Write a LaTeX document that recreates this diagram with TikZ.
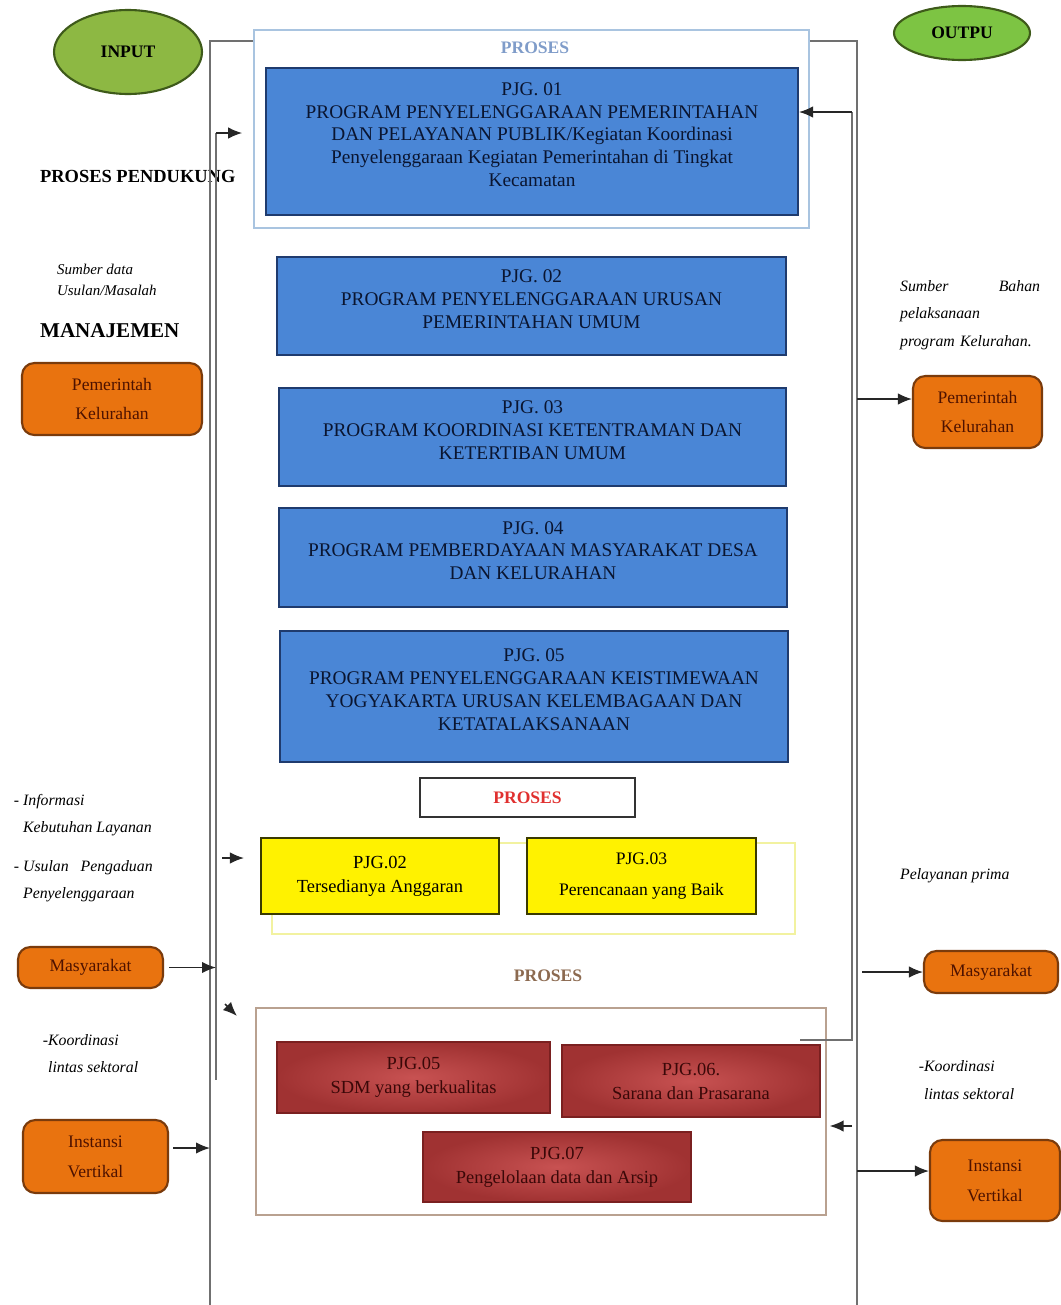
\documentclass[tikz,border=0pt]{standalone}
\usepackage{fontspec}
\setmainfont{Liberation Serif}
\usetikzlibrary{shapes.geometric,arrows.meta}
\definecolor{birubox}{HTML}{4A86D6}
\definecolor{birugaris}{HTML}{1F3B6E}
\definecolor{birutulis}{HTML}{0A1530}
\definecolor{birumuda}{HTML}{A9C4E0}
\definecolor{birujudul}{HTML}{7F9CC9}
\definecolor{kuninggaris}{HTML}{3A3A00}
\definecolor{kuningpudar}{HTML}{F2F2A0}
\definecolor{merahterang}{HTML}{C85252}
\definecolor{merahgelap}{HTML}{A03232}
\definecolor{merahgaris}{HTML}{7A2020}
\definecolor{merahtulis}{HTML}{3A0808}
\definecolor{oranye}{HTML}{E9730F}
\definecolor{oranyegaris}{HTML}{7A3B0C}
\definecolor{oranyetulis}{HTML}{4E1200}
\definecolor{hijaumasuk}{HTML}{8DB843}
\definecolor{hijaukeluar}{HTML}{7DC443}
\definecolor{hijaugaris}{HTML}{3E5A1A}
\definecolor{garis}{HTML}{707070}
\definecolor{merahjudul}{HTML}{E0302F}
\definecolor{coklatjudul}{HTML}{8C6A50}
\definecolor{bingkai}{HTML}{B9A190}
\newcommand{\naik}{\\[-5pt]\mbox{}}
\begin{document}
\begin{tikzpicture}[x=0.02cm,y=-0.02cm]
            \tikzstyle{every node}=[inner sep=1pt, text=black]
            \tikzstyle{program}=[rectangle, fill=birubox, draw=birugaris, line width=1.2pt, align=center, text=birutulis, font=\fontsize{11}{13}\selectfont]
            \tikzstyle{hasil}=[rectangle, fill=yellow, draw=kuninggaris, line width=1.2pt, align=center, font=\fontsize{10.5}{13.6}\selectfont]
            \tikzstyle{sarana}=[rectangle, inner color=merahterang, outer color=merahgelap, draw=merahgaris, line width=0.8pt, align=center, text=merahtulis, font=\fontsize{10.5}{13.6}\selectfont]
            \tikzstyle{pihak}=[rectangle, rounded corners=7pt, fill=oranye, draw=oranyegaris, line width=1.2pt, align=center, text=oranyetulis, font=\fontsize{10}{17}\selectfont]
            \tikzstyle{bulat}=[ellipse, draw=hijaugaris, line width=1.2pt, font=\bfseries\fontsize{10}{12}\selectfont]
            \tikzstyle{catatan}=[anchor=west, align=left, font=\itshape\fontsize{9}{15.5}\selectfont]
            \tikzstyle{judul}=[anchor=west, font=\bfseries\fontsize{10.5}{12}\selectfont]
            \tikzstyle{garisan}=[draw=garis, line width=1pt]
            \tikzstyle{panah}=[draw=black!85, line width=0.9pt, -{Latex[length=2.8mm,width=2.3mm]}]

            \useasboundingbox (0,0) rectangle (1061,1305);

            % masukan dan keluaran
            \node[bulat, fill=hijaumasuk, minimum width=2.96cm, minimum height=1.68cm] (input) at (128,52) {INPUT};
            \node[bulat, fill=hijaukeluar, minimum width=2.72cm, minimum height=1.08cm] (output) at (962,33) {OUTPU};

            % proses utama
            \node[rectangle, draw=birumuda, line width=1pt, minimum width=11.1cm, minimum height=3.96cm] (pbox) at (531.5,129) {};
            \node[font=\bfseries\fontsize{10}{12}\selectfont, text=birujudul] (plabel) at (535,48) {PROSES};
            \node[program, minimum width=10.64cm, minimum height=2.94cm] (pjg1) at (532,141.5) {PJG. 01\\PROGRAM PENYELENGGARAAN PEMERINTAHAN\\DAN PELAYANAN PUBLIK/Kegiatan Koordinasi\\Penyelenggaraan Kegiatan Pemerintahan di Tingkat\\Kecamatan\naik};
            \node[program, minimum width=10.18cm, minimum height=1.96cm] (pjg2) at (531.5,306) {PJG. 02\\PROGRAM PENYELENGGARAAN URUSAN\\PEMERINTAHAN UMUM\naik};
            \node[program, minimum width=10.14cm, minimum height=1.96cm] (pjg3) at (532.5,437) {PJG. 03\\PROGRAM KOORDINASI KETENTRAMAN DAN\\KETERTIBAN UMUM\naik};
            \node[program, minimum width=10.16cm, minimum height=1.98cm] (pjg4) at (533,557.5) {PJG. 04\\PROGRAM PEMBERDAYAAN MASYARAKAT DESA\\DAN KELURAHAN\naik};
            \node[program, minimum width=10.16cm, minimum height=2.62cm] (pjg5) at (534,696.5) {PJG. 05\\PROGRAM PENYELENGGARAAN KEISTIMEWAAN\\YOGYAKARTA URUSAN KELEMBAGAAN DAN\\KETATALAKSANAAN\naik};

            % hasil
            \node[rectangle, draw=black!80, line width=1pt, minimum width=4.3cm, minimum height=0.78cm, text=merahjudul, font=\bfseries\fontsize{10}{12}\selectfont] (plabel2) at (527.5,797.5) {PROSES};
            \node[rectangle, draw=kuningpudar, line width=1.2pt, minimum width=10.46cm, minimum height=1.82cm] (ybox) at (533.5,888.5) {};
            \node[hasil, minimum width=4.76cm, minimum height=1.52cm] (hasil2) at (380,876) {PJG.02\\Tersedianya Anggaran};
            \node[hasil, minimum width=4.58cm, minimum height=1.52cm, font=\fontsize{10}{17.5}\selectfont] (hasil3) at (641.5,876) {PJG.03\\Perencanaan yang Baik};

            % sarana
            \node[text=coklatjudul, font=\bfseries\fontsize{10}{12}\selectfont] (plabel3) at (548,976) {PROSES};
            \node[rectangle, draw=bingkai, line width=0.8pt, minimum width=11.4cm, minimum height=4.14cm] (bbox) at (541,1111.5) {};
            \node[sarana, minimum width=5.46cm, minimum height=1.42cm] (pjg05) at (413.5,1077.5) {PJG.05\\SDM yang berkualitas};
            \node[sarana, minimum width=5.16cm, minimum height=1.44cm] (pjg06) at (691,1081) {PJG.06.\\Sarana dan Prasarana};
            \node[sarana, minimum width=5.36cm, minimum height=1.4cm] (pjg07) at (557,1167) {PJG.07\\Pengelolaan data dan Arsip};

            % kiri
            \node[judul] (pendukung) at (38,176) {PROSES PENDUKUNG};
            \node[catatan, font=\itshape\fontsize{8.5}{12}\selectfont] (sumber1) at (55,280) {Sumber data\\Usulan/Masalah};
            \node[judul, font=\bfseries\fontsize{12}{14}\selectfont] (manajemen) at (38,331) {MANAJEMEN};
            \node[pihak, minimum width=3.6cm, minimum height=1.44cm] (pemkiri) at (112,399) {Pemerintah\\Kelurahan};
            \node[catatan] (info) at (21,815) {\llap{- }Informasi\\Kebutuhan Layanan};
            \node[catatan] (usulan) at (21,881.5) {\llap{- }Usulan\ \ \ Pengaduan\\Penyelenggaraan};
            \node[pihak, minimum width=2.9cm, minimum height=0.82cm] (masykiri) at (90.5,967.5) {Masyarakat};
            \node[catatan] (koorkiri) at (46,1053.5) {\llap{-}Koordinasi\\lintas sektoral};
            \node[pihak, minimum width=2.9cm, minimum height=1.46cm] (instkiri) at (95.5,1156.5) {Instansi\\Vertikal};

            % kanan
            \node[catatan, text width=2.8cm] (sumber2) at (898,315) {Sumber\hfill Bahan\\pelaksanaan\\program Kelurahan.};
            \node[pihak, minimum width=2.58cm, minimum height=1.44cm] (pemkanan) at (977.5,412) {Pemerintah\\Kelurahan};
            \node[catatan] (prima) at (898,876) {Pelayanan prima};
            \node[pihak, minimum width=2.68cm, minimum height=0.84cm] (masykanan) at (991,972) {Masyarakat};
            \node[catatan] (koorkanan) at (922,1080) {\llap{-}Koordinasi\\lintas sektoral};
            \node[pihak, minimum width=2.6cm, minimum height=1.62cm] (instkanan) at (995,1180.5) {Instansi\\Vertikal};

            % garis kiri
            \coordinate (lt) at (210,41);
            \coordinate (lb) at (210,1305);
            \coordinate (l2t) at (216,133);
            \coordinate (l2b) at (216,1080);
            \coordinate (l3) at (222,858);
            \coordinate (l4) at (225,1004);
            \draw[garisan] (pbox.west |- lt) -- (lt) -- (lb);
            \draw[garisan] (l2t) -- (l2b);
            \draw[panah, shorten >=0.22cm] (l2t) -- (pbox.west |- l2t);
            \draw[panah, shorten >=0.32cm] (l3) -- (hasil2.west |- l3);
            \draw[panah, shorten <=0.1cm] (masykiri.east) -- (l2t |- masykiri.east);
            \draw[panah] (l4) -- ++(12,12);
            \draw[panah, shorten <=0.08cm] (instkiri.east |- 0,1148) -- (lb |- 0,1148);

            % garis kanan
            \coordinate (rt) at (857,41);
            \coordinate (rb) at (857,1305);
            \coordinate (r2t) at (852,112);
            \coordinate (r2b) at (852,1040);
            \coordinate (r2c) at (800,1040);
            \draw[garisan] (pbox.east |- rt) -- (rt) -- (rb);
            \draw[garisan] (r2c) -- (r2b) -- (r2t);
            \draw[panah] (r2t) -- (pjg1.east |- r2t);
            \draw[panah] (rt |- 0,399) -- (pemkanan.west |- 0,399);
            \draw[panah, shorten <=0.1cm] (rb |- masykanan.west) -- (masykanan.west);
            \draw[panah, shorten >=0.06cm] (r2t |- 0,1126) -- (bbox.east |- 0,1126);
            \draw[panah] (rb |- 0,1171) -- (instkanan.west |- 0,1171);
        \end{tikzpicture}
\end{document}
